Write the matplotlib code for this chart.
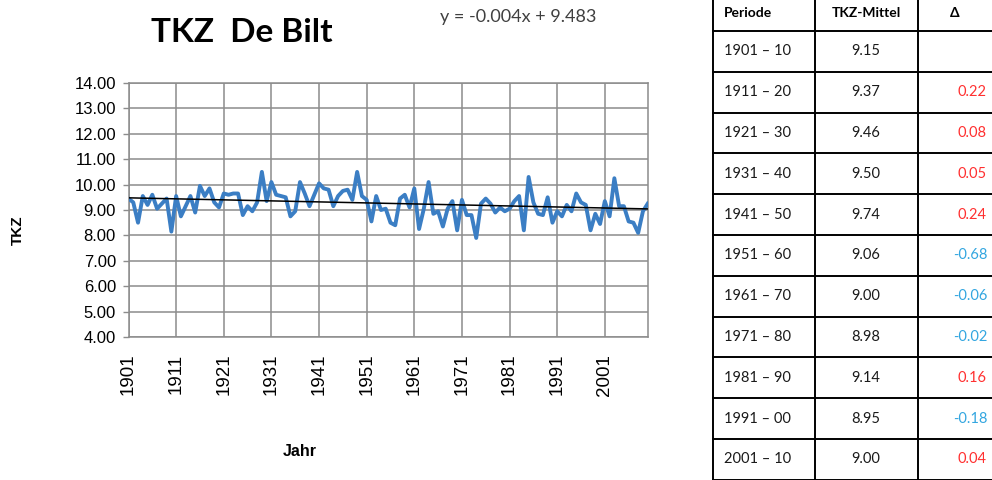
import matplotlib.pyplot as plt
import numpy as np

# yearly TKZ values De Bilt, 1901-2010
years = np.arange(1901, 2011)
tkz = [9.45, 9.30, 8.50, 9.55, 9.20, 9.60, 9.05, 9.25, 9.45, 8.15,
       9.55, 8.75, 9.15, 9.55, 8.90, 9.95, 9.55, 9.85, 9.30, 9.10,
       9.65, 9.60, 9.65, 9.65, 8.80, 9.15, 8.95, 9.30, 10.50, 9.35,
       10.10, 9.60, 9.55, 9.50, 8.75, 8.95, 10.10, 9.65, 9.15, 9.60,
       10.05, 9.85, 9.80, 9.15, 9.55, 9.75, 9.80, 9.40, 10.50, 9.55,
       9.40, 8.55, 9.55, 9.00, 9.05, 8.50, 8.40, 9.45, 9.60, 9.10,
       9.85, 8.25, 9.05, 10.10, 8.85, 8.95, 8.35, 9.05, 9.35, 8.20,
       9.40, 8.80, 8.80, 7.90, 9.25, 9.45, 9.25, 8.90, 9.10, 8.95,
       9.05, 9.35, 9.55, 8.20, 10.30, 9.30, 8.85, 8.80, 9.50, 8.50,
       8.95, 8.75, 9.20, 8.95, 9.65, 9.30, 9.20, 8.20, 8.85, 8.45,
       9.35, 8.75, 10.25, 9.15, 9.15, 8.55, 8.50, 8.10, 8.95, 9.25]

# linear trend as printed on the chart (x = 1..110)
trend_slope = -0.004
trend_icept = 9.483

# decade table
periods = ['1901 – 10', '1911 – 20', '1921 – 30', '1931 – 40', '1941 – 50',
           '1951 – 60', '1961 – 70', '1971 – 80', '1981 – 90', '1991 – 00',
           '2001 – 10']
means = ['9.15', '9.37', '9.46', '9.50', '9.74', '9.06', '9.00', '8.98',
         '9.14', '8.95', '9.00']
deltas = ['', '0.22', '0.08', '0.05', '0.24', '-0.68', '-0.06', '-0.02',
          '0.16', '-0.18', '0.04']

W, H = 992, 480
fig = plt.figure(figsize=(W / 100, H / 100), dpi=100)
ax = fig.add_axes([128.5 / W, 1 - 337 / H, (647.7 - 128.5) / W, 254 / H])

idx = np.arange(1, len(tkz) + 1)
ax.plot(years, tkz, color='#3b7ec4', lw=2.8, solid_joinstyle='round', zorder=3)
ax.plot(years, trend_slope * idx + trend_icept, color='black', lw=1.1, zorder=4)

ax.set_xlim(1901, 2010)
ax.set_ylim(4, 14)
ax.set_yticks(np.arange(4, 14.01, 1))
ax.set_yticklabels(['%.2f' % v for v in np.arange(4, 14.01, 1)])
ax.set_xticks(np.arange(1901, 2002, 10))
ax.tick_params(axis='x', labelrotation=90, length=0, pad=12, labelsize=13.5)
ax.tick_params(axis='y', length=4, width=1, color='#8c8c8c', pad=5, labelsize=12)
for lab in ax.get_xticklabels() + ax.get_yticklabels():
    lab.set_family('Liberation Sans')
ax.grid(True, color='#8c8c8c', lw=1.1)
for s in ax.spines.values():
    s.set_color('#8c8c8c')
    s.set_linewidth(1.1)

fig.text(18 / W, 1 - 230 / H, 'TKZ', fontsize=11, fontweight='bold', rotation=90,
         family='Liberation Sans', ha='center', va='center')
fig.text(300 / W, 1 - 452 / H, 'Jahr', fontsize=11.5, fontweight='bold',
         family='Liberation Sans', ha='center', va='center')
fig.text(242 / W, 1 - 32 / H, 'TKZ  De Bilt', fontsize=24, fontweight='bold',
         family='Lato', ha='center', va='center')
fig.text(518 / W, 1 - 17 / H, 'y = -0.004x + 9.483', fontsize=13, color='#404040',
         family='Lato', ha='center', va='center')

# table on the right, drawn in pixel coordinates
tab = fig.add_axes([0, 0, 1, 1])
tab.set_xlim(0, W)
tab.set_ylim(H, 0)
tab.axis('off')
col_x = [713, 815, 918, 1000]
row_h = 40.8
top = 31
n = len(periods)
for cx in col_x:
    tab.plot([cx, cx], [-5, H + 5], color='black', lw=1.4)
for r in range(n + 1):
    yy = top + r * row_h
    tab.plot([col_x[0], W + 5], [yy, yy], color='black', lw=1.4)

hdr_y = 13
tab.text(724, hdr_y, 'Periode', fontsize=10, fontweight='bold', family='Lato', va='center', ha='left')
tab.text(866, hdr_y, 'TKZ-Mittel', fontsize=10, fontweight='bold', family='Lato', va='center', ha='center')
tab.text(955, hdr_y, 'Δ', fontsize=10, fontweight='bold', family='Lato', va='center', ha='center')
for r in range(n):
    yy = top + (r + 0.5) * row_h
    tab.text(724, yy, periods[r], fontsize=10.5, family='Lato', va='center', ha='left', color='#1a1a1a')
    tab.text(866, yy, means[r], fontsize=10.5, family='Lato', va='center', ha='center', color='#1a1a1a')
    if deltas[r]:
        col = '#33a6e0' if deltas[r].startswith('-') else '#ff3030'
        tab.text(987, yy, deltas[r], fontsize=10.5, family='Lato', va='center', ha='right', color=col)

fig.savefig('out.png', dpi=100)
